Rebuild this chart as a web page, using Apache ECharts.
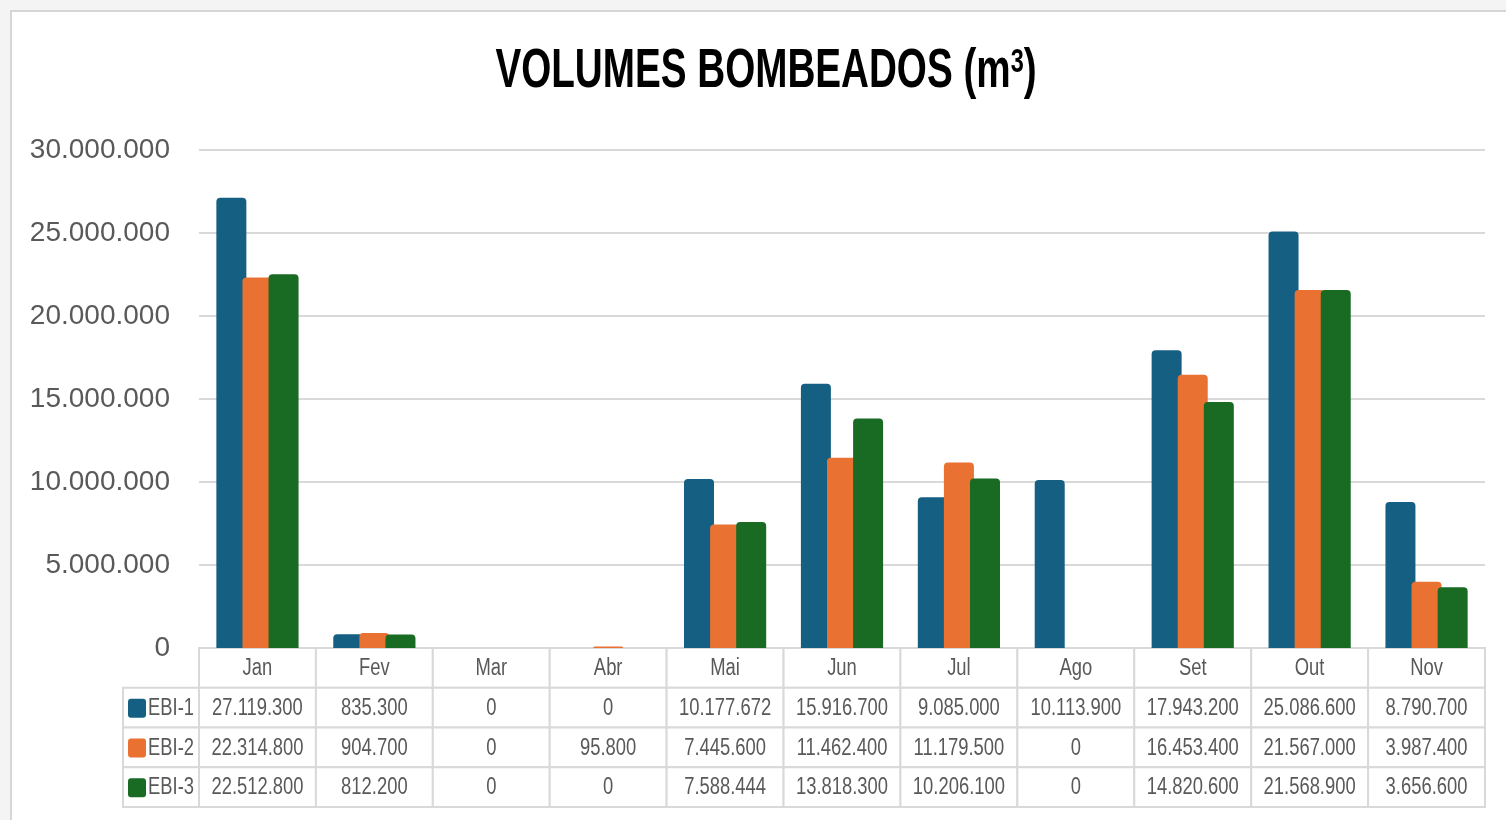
<!DOCTYPE html>
<html>
<head>
<meta charset="utf-8">
<script src="https://cdn.jsdelivr.net/npm/echarts@6/dist/echarts.min.js"></script>
<style>
  html, body { margin: 0; padding: 0; background: #f4f4f4; }
  #frame { position: absolute; left: 10px; top: 10px; width: 1520px; height: 840px; background: #fff; border: 2px solid #d6d6d6; }
  #chart { position: absolute; left: 0; top: 0; width: 1506px; height: 820px; }
</style>
</head>
<body>
<div id="frame"></div>
<div id="chart"></div>
<script>
const months = ['Jan', 'Fev', 'Mar', 'Abr', 'Mai', 'Jun', 'Jul', 'Ago', 'Set', 'Out', 'Nov'];
const seriesNames = ['EBI-1', 'EBI-2', 'EBI-3'];
const ebi1 = [27119300, 835300, 0, 0, 10177672, 15916700, 9085000, 10113900, 17943200, 25086600, 8790700];
const ebi2 = [22314800, 904700, 0, 95800, 7445600, 11462400, 11179500, 0, 16453400, 21567000, 3987400];
const ebi3 = [22512800, 812200, 0, 0, 7588444, 13818300, 10206100, 0, 14820600, 21568900, 3656600];
const yMin = 0, yMax = 30000000, yStep = 5000000;

const colors = ['#156082', '#E97132', '#196B24'];
const values = [ebi1, ebi2, ebi3];
const font = '"Liberation Sans", Arial, sans-serif';
const squeeze = 0.8; // narrow look of the table text

// 27119300 -> 27.119.300
const fmt = v => String(v).replace(/\B(?=(\d{3})+(?!\d))/g, '.');

// table cells: row 0 = header, rows 1..3 = series
const cellData = [];
const cellText = [];
months.forEach((m, i) => {
  cellData.push([i, 0]);
  cellText.push(m);
  values.forEach((arr, s) => {
    cellData.push([i, s + 1]);
    cellText.push(fmt(arr[i]));
  });
});
const labelData = seriesNames.map((n, s) => [0, s + 1]);

const chart = echarts.init(document.getElementById('chart'));

function renderCell(params, api) {
  const c = api.coord([api.value(0), api.value(1)]);
  const s = api.size([1, 1]);
  return {
    type: 'group',
    children: [
      {
        type: 'rect',
        shape: { x: c[0] - s[0] / 2, y: c[1] - s[1] / 2, width: s[0], height: s[1] },
        style: { fill: '#fff', stroke: '#d9d9d9', lineWidth: 2 }
      },
      {
        type: 'text', x: c[0], y: c[1] + 1, scaleX: squeeze,
        style: {
          x: 0, y: 0, text: cellText[params.dataIndex],
          align: 'center', verticalAlign: 'middle',
          fill: '#595959', fontSize: 23, fontFamily: font
        }
      }
    ]
  };
}

function renderLabel(params, api) {
  const c = api.coord([api.value(0), api.value(1)]);
  const s = api.size([1, 1]);
  const right = c[0] - s[0] / 2;
  const w = 76;
  const idx = params.dataIndex;
  return {
    type: 'group',
    children: [
      {
        type: 'rect',
        shape: { x: right - w, y: c[1] - s[1] / 2, width: w, height: s[1] },
        style: { fill: '#fff', stroke: '#d9d9d9', lineWidth: 2 }
      },
      {
        type: 'rect',
        shape: { x: right - w + 5, y: c[1] - 9, width: 18, height: 19, r: 3 },
        style: { fill: colors[idx] }
      },
      {
        type: 'text', x: right - w + 25, y: c[1] + 1, scaleX: squeeze,
        style: {
          x: 0, y: 0, text: seriesNames[idx],
          align: 'left', verticalAlign: 'middle',
          fill: '#595959', fontSize: 23, fontFamily: font
        }
      }
    ]
  };
}

const option = {
  animation: false,
  graphic: [
    {
      type: 'text', x: 766, y: 72, scaleX: 0.69,
      style: {
        text: '{a|VOLUMES BOMBEADOS (m}{s|3}{a|)}',
        align: 'center', verticalAlign: 'middle',
        rich: {
          a: { fill: '#000', fontWeight: 'bold', fontSize: 56, fontFamily: font },
          s: { fill: '#000', fontWeight: 'bold', fontSize: 34, fontFamily: font, verticalAlign: 'top', padding: [2, 0, 0, 0] }
        }
      }
    }
  ],
  grid: [
    { left: 199, top: 150, width: 1286, height: 498 },
    { left: 199, top: 648, width: 1286, height: 159 }
  ],
  xAxis: [
    {
      type: 'category', gridIndex: 0, data: months,
      axisLine: { show: false }, axisTick: { show: false }, axisLabel: { show: false }
    },
    {
      type: 'category', gridIndex: 1, data: months,
      axisLine: { show: false }, axisTick: { show: false }, axisLabel: { show: false }
    }
  ],
  yAxis: [
    {
      type: 'value', gridIndex: 0, min: yMin, max: yMax, interval: yStep,
      axisLine: { show: false }, axisTick: { show: false },
      axisLabel: { formatter: v => fmt(v), color: '#595959', fontSize: 28, margin: 29, fontFamily: font },
      splitLine: { lineStyle: { color: '#d9d9d9', width: 2 } }
    },
    {
      type: 'category', gridIndex: 1, inverse: true, data: ['', 'EBI-1', 'EBI-2', 'EBI-3'],
      axisLine: { show: false }, axisTick: { show: false }, axisLabel: { show: false }
    }
  ],
  series: [
    ...seriesNames.map((name, s) => ({
      name, type: 'bar', xAxisIndex: 0, yAxisIndex: 0,
      data: values[s], barWidth: 30, barGap: '-13%',
      itemStyle: { color: colors[s], borderRadius: [4, 4, 0, 0] }
    })),
    {
      type: 'custom', xAxisIndex: 1, yAxisIndex: 1, renderItem: renderCell,
      data: cellData, encode: { x: 0, y: 1 }, silent: true
    },
    {
      type: 'custom', xAxisIndex: 1, yAxisIndex: 1, renderItem: renderLabel,
      data: labelData, encode: { x: 0, y: 1 }, silent: true
    }
  ]
};

chart.setOption(option);
</script>
</body>
</html>
